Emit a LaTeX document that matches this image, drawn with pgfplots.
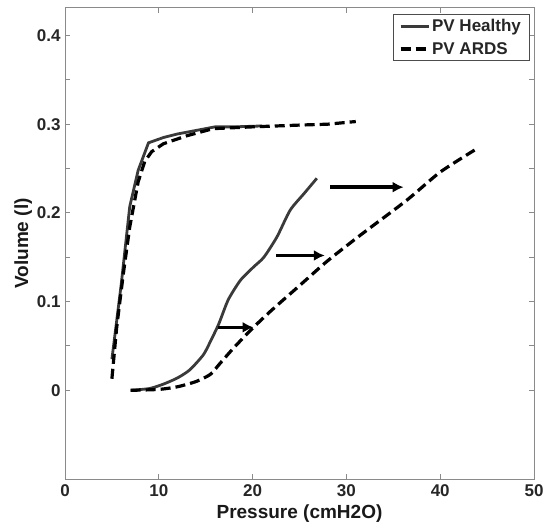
\documentclass[border=0pt]{standalone}
\usepackage{fontspec}
\setmainfont{Liberation Sans}
\usepackage{pgfplots}
\pgfplotsset{compat=1.18}
\usetikzlibrary{arrows.meta}
\definecolor{solidgray}{HTML}{3A3A3A}
\definecolor{framegray}{HTML}{8A8A8A}
\begin{document}
\begin{tikzpicture}
\begin{axis}[
  name=ax,
  scale only axis,
  width=469pt, height=471pt,
  xmin=0, xmax=50, ymin=-0.1, ymax=0.431,
  xtick={0,10,20,30,40,50},
  ytick={0,0.1,0.2,0.3,0.4},
  minor y tick num=1,
  tick align=inside,
  major tick length=5pt, minor tick length=5pt,
  axis line style={framegray, line width=1pt},
  every tick/.style={framegray, line width=1pt},
  every minor tick/.style={framegray, line width=1pt},
  /pgf/number format/assume math mode=true,
  /pgf/number format/fixed,
  /pgf/number format/precision=1,
  tick label style={font=\fontsize{17}{20}\selectfont\bfseries, text=black!85},
  xticklabel style={yshift=-2pt},
  yticklabel style={xshift=-1pt},
  xlabel={Pressure (cmH2O)},
  ylabel={Volume (l)},
  label style={font=\fontsize{19}{22}\selectfont\bfseries, text=black!90},
  xlabel style={yshift=-1pt},
  ylabel style={yshift=-2pt},
  legend style={at={(0.99,0.987)}, anchor=north east, draw=black!70, line width=0.8pt,
    font=\fontsize{17}{20}\selectfont\bfseries, text=black!85,
    inner xsep=6pt, inner ysep=3pt, row sep=5pt},
  legend cell align=left,
  legend image code/.code={\draw[#1] (0pt,0pt) -- (28pt,0pt);},
]
% Healthy: lower (inflation) branch
\addplot[solidgray, line width=2.8pt, smooth, tension=0.4] coordinates {
(7,0) (9,0.002) (10.5,0.007) (12,0.014) (13.3,0.023) (14.75,0.040) (15.5,0.055)
(16.4,0.075) (17.4,0.102) (18.7,0.124) (20.1,0.139) (21.2,0.150) (22.6,0.173)
(24,0.203) (25.5,0.222) (26.85,0.239)};
\addlegendentry{PV Healthy}
% ARDS: lower branch
\addplot[black, line width=3.2pt, dash pattern=on 10pt off 5pt, smooth, tension=0.4] coordinates {
(7,0) (10,0.001) (12,0.004) (14,0.010) (15.5,0.018) (16.5,0.030) (18,0.048)
(20,0.070) (22,0.090) (25,0.118) (28,0.146) (31.5,0.175) (36.4,0.214)
(40,0.246) (44,0.273)};
\addlegendentry{PV ARDS}
% Healthy: upper (deflation) branch
\addplot[solidgray, line width=2.8pt, forget plot] coordinates {
(5,0.035) (6,0.120) (6.9,0.207) (7.8,0.248) (8.9,0.279) (10.5,0.285) (12,0.289)
(14,0.293) (16,0.297) (18,0.297) (21,0.298)};
% ARDS: upper branch
\addplot[black, line width=3.2pt, dash pattern=on 10pt off 5pt, forget plot] coordinates {
(5,0.013) (5.5,0.070) (6.2,0.130) (6.9,0.184) (7.8,0.235) (8.5,0.258) (9.24,0.269)
(10.5,0.278) (13,0.287) (15.8,0.295) (20,0.297) (25,0.299) (28,0.300) (31,0.303)};
% Arrows
\addplot[black, line width=3.5pt, -{Latex[length=11pt,width=11pt]}, forget plot] coordinates {(16.35,0.071) (20.1,0.071)};
\addplot[black, line width=3.5pt, -{Latex[length=11pt,width=11pt]}, forget plot] coordinates {(22.5,0.152) (27.7,0.152)};
\addplot[black, line width=3.5pt, -{Latex[length=11pt,width=11pt]}, forget plot] coordinates {(28.3,0.229) (36.1,0.229)};
\end{axis}
\pgfresetboundingbox
\path ([shift={(-65pt,-43pt)}]ax.south west) rectangle ([shift={(10pt,8pt)}]ax.north east);
\end{tikzpicture}
\end{document}
